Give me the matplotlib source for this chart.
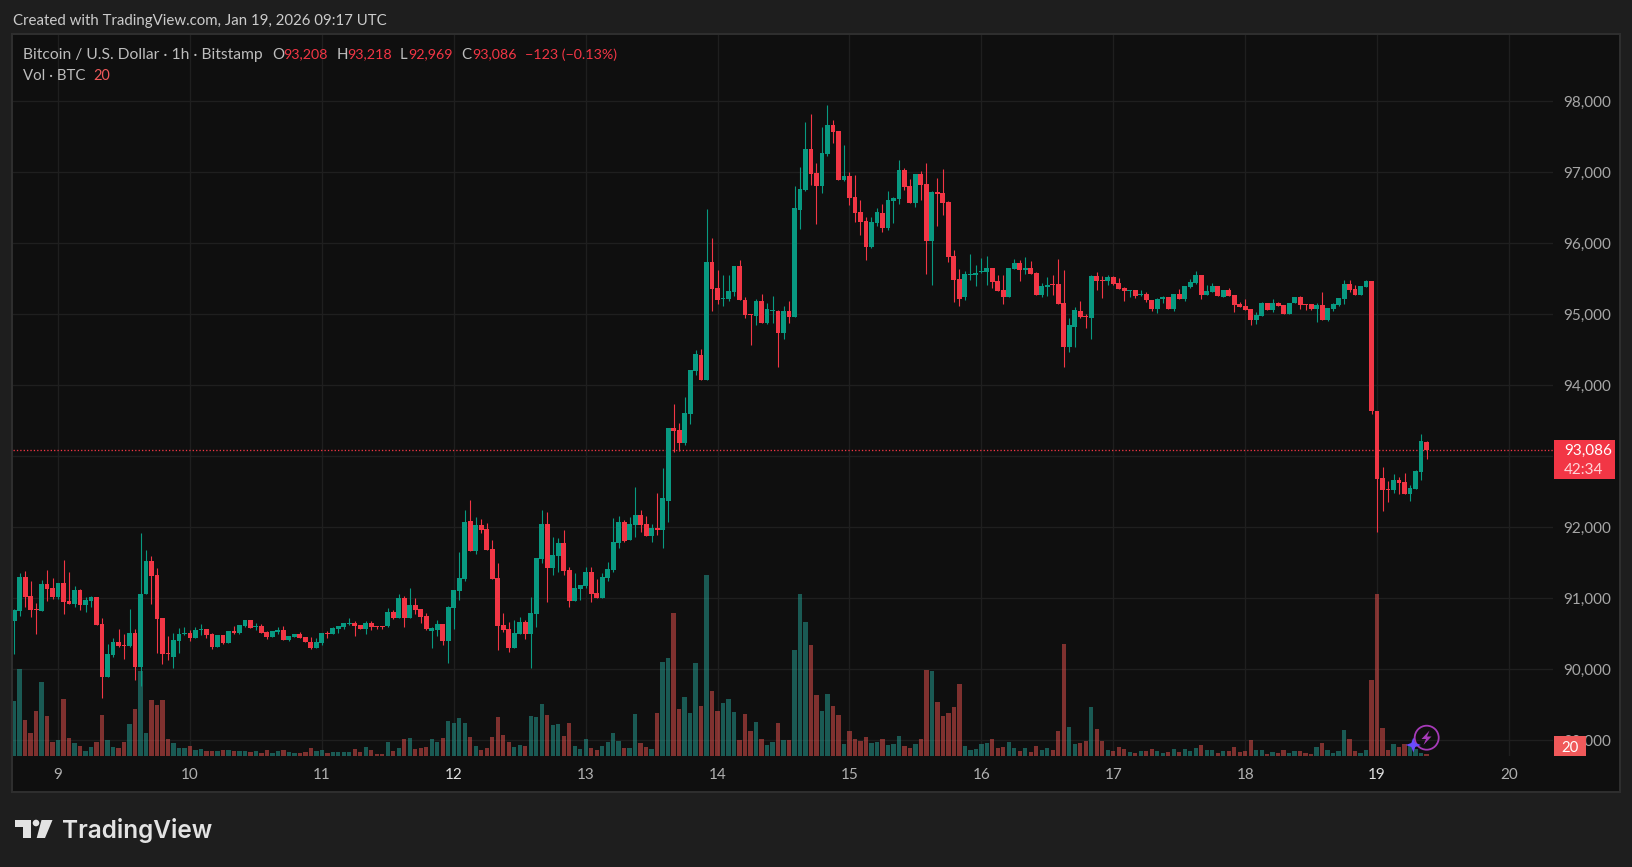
# -*- coding: utf-8 -*-
import matplotlib
matplotlib.use('Agg')
import matplotlib.pyplot as plt
from matplotlib.patches import Rectangle, Polygon, Circle
from matplotlib.path import Path
from matplotlib.patches import PathPatch
import numpy as np

opens = [
    90684, 90820, 91295, 91032, 90849, 90820, 91201, 91145, 91018, 91215,
    90961, 90919, 91116, 90905, 90961, 91018, 90637, 89890, 90200, 90383,
    90341, 90327, 90510, 90031, 91060, 91525, 91328, 90722, 90228, 90172,
    90397, 90496, 90510, 90440, 90552, 90567, 90496, 90313, 90482, 90369,
    90538, 90510, 90609, 90693, 90595, 90609, 90524, 90454, 90524, 90552,
    90412, 90454, 90496, 90454, 90383, 90299, 90369, 90510, 90498, 90568,
    90596, 90638, 90652, 90624, 90568, 90652, 90610, 90610, 90610, 90807,
    90723, 91005, 90723, 90906, 90850, 90751, 90540, 90554, 90638, 90399,
    90864, 91103, 91272, 92089, 91667, 92033, 91977, 91695, 91286, 90624,
    90568, 90300, 90498, 90667, 90498, 90779, 91554, 92047, 91427, 91596,
    91779, 91399, 90962, 91132, 91174, 91371, 91075, 91005, 91286, 91399,
    91779, 92075, 91822, 92033, 92174, 92047, 91878, 91991, 91962, 92371,
    93399, 93371, 93188, 93596, 94202, 94427, 94075, 95737, 95371, 95216,
    95216, 95315, 95681, 95202, 95005, 94976, 95188, 94878, 95047, 95047,
    94737, 95047, 94962, 96470, 96751, 97329, 96991, 96808, 97258, 97667,
    97582, 96892, 96948, 96653, 96441, 96315, 95948, 96286, 96427, 96216,
    96596, 96624, 97033, 96808, 96568, 96977, 96836, 96033, 96723, 96709,
    96582, 95822, 95498, 95244, 95554, 95554, 95596, 95596, 95653, 95469,
    95343, 95244, 95638, 95723, 95624, 95653, 95582, 95272, 95385, 95427,
    95427, 95160, 94540, 94822, 95047, 94976, 94948, 95540, 95484, 95469,
    95526, 95441, 95371, 95329, 95343, 95272, 95286, 95202, 95075, 95216,
    95244, 95075, 95286, 95216, 95385, 95441, 95554, 95272, 95315, 95399,
    95244, 95343, 95272, 95146, 95117, 95075, 94920, 94976, 95160, 95061,
    95160, 95131, 95005, 95160, 95244, 95146, 95146, 95075, 95131, 94920,
    95075, 95131, 95216, 95427, 95357, 95272, 95385, 95469, 93638, 92695,
    92540, 92526, 92667, 92639, 92470, 92540, 92779, 93208,
]
highs = [
    90849, 91351, 91384, 91243, 90933, 91257, 91398, 91286, 91215, 91539,
    91370, 91173, 91130, 91018, 91032, 91018, 90722, 90355, 90440, 90567,
    90496, 90849, 90567, 91920, 91680, 91596, 91427, 90722, 90468, 90510,
    90581, 90595, 90552, 90595, 90637, 90567, 90510, 90482, 90482, 90538,
    90609, 90623, 90693, 90693, 90651, 90637, 90538, 90538, 90595, 90609,
    90468, 90496, 90524, 90454, 90454, 90440, 90510, 90538, 90596, 90610,
    90652, 90723, 90681, 90624, 90681, 90681, 90610, 90610, 90864, 90836,
    91061, 91033, 91146, 91005, 90850, 90793, 90596, 90695, 90638, 90892,
    91117, 91653, 92244, 92385, 92146, 92117, 92061, 91822, 91498, 90793,
    90667, 90695, 90737, 90695, 91019, 91568, 92244, 92216, 91864, 91850,
    91962, 91441, 91357, 91188, 91441, 91441, 91272, 91357, 91512, 92131,
    92160, 92103, 92146, 92568, 92244, 92160, 92047, 92484, 92836, 93399,
    93737, 93470, 93836, 94216, 94498, 94512, 96484, 96075, 95624, 95554,
    95554, 95681, 95765, 95244, 95005, 95216, 95286, 95160, 95258, 95061,
    95117, 95188, 96808, 97075, 97709, 97822, 97131, 97639, 97948, 97737,
    97582, 97385, 97005, 96962, 96610, 96371, 96371, 96498, 96554, 96737,
    96653, 97174, 97061, 96906, 96977, 97019, 97131, 96737, 96920, 97047,
    96596, 95906, 95639, 95610, 95850, 95695, 95793, 95822, 95653, 95554,
    95554, 95653, 95779, 95765, 95808, 95751, 95596, 95441, 95526, 95554,
    95779, 95624, 94948, 95103, 95188, 95005, 95554, 95596, 95540, 95554,
    95540, 95512, 95385, 95343, 95343, 95343, 95315, 95202, 95230, 95258,
    95244, 95286, 95357, 95399, 95498, 95610, 95554, 95413, 95441, 95399,
    95343, 95371, 95272, 95174, 95216, 95075, 95033, 95174, 95160, 95216,
    95174, 95131, 95160, 95244, 95258, 95146, 95146, 95160, 95315, 95089,
    95160, 95230, 95484, 95484, 95413, 95399, 95484, 95469, 93638, 92850,
    92653, 92751, 92709, 92765, 92596, 92807, 93315, 93218,
]
lows = [
    90214, 90750, 90877, 90736, 90496, 90820, 90961, 90990, 90990, 90778,
    90919, 90877, 90834, 90806, 90877, 90623, 89594, 89890, 90172, 90313,
    90144, 90313, 89847, 89763, 91060, 90919, 90228, 90073, 90129, 90017,
    90228, 90482, 90397, 90440, 90482, 90440, 90285, 90313, 90355, 90369,
    90496, 90496, 90595, 90581, 90552, 90510, 90426, 90454, 90496, 90412,
    90397, 90454, 90440, 90383, 90285, 90299, 90341, 90440, 90498, 90512,
    90568, 90624, 90469, 90568, 90498, 90554, 90568, 90568, 90596, 90709,
    90723, 90596, 90723, 90779, 90652, 90554, 90300, 90469, 90343, 90089,
    90568, 90976, 91244, 91667, 91624, 91920, 91681, 91272, 90272, 90526,
    90244, 90300, 90498, 90427, 90019, 90596, 91498, 90948, 91329, 91371,
    91329, 90878, 90962, 90976, 91146, 90948, 91005, 91005, 91244, 91371,
    91709, 91793, 91822, 91864, 91934, 91878, 91793, 91892, 91709, 92075,
    93061, 93075, 93160, 93455, 94145, 94075, 94075, 95047, 95146, 95117,
    95188, 95258, 95202, 94948, 94568, 94850, 94878, 94864, 94878, 94258,
    94653, 94878, 94962, 96202, 96737, 96822, 96272, 96709, 97230, 97413,
    96892, 96878, 96540, 96300, 96117, 95765, 95934, 96244, 96160, 96188,
    96286, 96554, 96751, 96568, 96512, 96610, 95568, 95413, 96244, 96399,
    95737, 95174, 95117, 95202, 95484, 95399, 95582, 95413, 95371, 95329,
    95146, 95244, 95638, 95469, 95568, 95568, 95272, 95244, 95258, 95272,
    95146, 94258, 94469, 94540, 94948, 94807, 94653, 95343, 95230, 95413,
    95413, 95357, 95188, 95244, 95230, 95258, 95174, 95047, 95019, 95160,
    95075, 95047, 95216, 95188, 95371, 95427, 95216, 95272, 95315, 95258,
    95244, 95258, 95033, 95103, 95061, 94850, 94864, 94976, 95061, 95033,
    95117, 95005, 95005, 95160, 95075, 95061, 95061, 94892, 94920, 94906,
    95047, 95117, 95146, 95315, 95272, 95272, 95385, 93596, 91934, 92230,
    92357, 92484, 92470, 92470, 92371, 92540, 92667, 92969,
]
closes = [
    90834, 91295, 91018, 90834, 90834, 91201, 91130, 91018, 91215, 90947,
    90919, 91116, 90905, 90975, 91018, 90623, 89890, 90214, 90383, 90327,
    90327, 90510, 90031, 91060, 91525, 91314, 90707, 90214, 90214, 90412,
    90496, 90510, 90440, 90552, 90567, 90482, 90313, 90482, 90369, 90538,
    90510, 90623, 90693, 90581, 90609, 90510, 90454, 90538, 90552, 90412,
    90468, 90496, 90440, 90383, 90299, 90383, 90510, 90496, 90582, 90610,
    90652, 90652, 90610, 90568, 90652, 90596, 90596, 90596, 90807, 90723,
    91005, 90723, 90906, 90836, 90737, 90568, 90582, 90638, 90399, 90878,
    91117, 91286, 92075, 91667, 92033, 91962, 91681, 91272, 90610, 90554,
    90300, 90512, 90667, 90498, 90793, 91568, 92047, 91427, 91610, 91779,
    91385, 90962, 91146, 91188, 91371, 91061, 91005, 91300, 91413, 91793,
    92075, 91808, 92047, 92174, 92033, 91878, 91991, 91962, 92413, 93399,
    93357, 93188, 93610, 94216, 94441, 94075, 95737, 95357, 95202, 95230,
    95329, 95681, 95202, 94990, 94990, 95188, 94878, 95075, 95061, 94737,
    95047, 94962, 96498, 96765, 97329, 96977, 96808, 97272, 97667, 97568,
    96892, 96948, 96639, 96427, 96300, 95948, 96300, 96441, 96216, 96610,
    96639, 97033, 96794, 96568, 96977, 96822, 96033, 96723, 96695, 96568,
    95808, 95484, 95216, 95568, 95568, 95582, 95610, 95653, 95455, 95329,
    95244, 95653, 95723, 95624, 95653, 95568, 95272, 95399, 95413, 95413,
    95146, 94540, 94850, 95061, 94962, 94962, 95540, 95469, 95469, 95526,
    95427, 95357, 95329, 95343, 95258, 95286, 95202, 95075, 95216, 95244,
    95075, 95286, 95216, 95399, 95455, 95554, 95272, 95329, 95399, 95258,
    95343, 95258, 95131, 95103, 95061, 94920, 94990, 95160, 95061, 95160,
    95117, 95005, 95160, 95244, 95131, 95131, 95075, 95131, 94920, 95089,
    95146, 95230, 95427, 95343, 95272, 95399, 95469, 93638, 92681, 92526,
    92526, 92667, 92624, 92470, 92554, 92793, 93216, 93086,
]
volumes = [
    492, 780, 321, 204, 402, 663, 357, 123, 141, 510,
    159, 114, 87, 42, 78, 123, 366, 141, 78, 69,
    123, 285, 420, 765, 204, 501, 456, 501, 150, 114,
    69, 69, 87, 51, 60, 42, 42, 42, 51, 51,
    42, 42, 42, 33, 42, 24, 51, 24, 42, 51,
    33, 24, 24, 33, 69, 42, 51, 24, 33, 33,
    33, 33, 60, 33, 78, 51, 15, 15, 123, 42,
    69, 150, 159, 60, 69, 78, 150, 123, 159, 312,
    294, 339, 294, 168, 87, 51, 69, 168, 348, 186,
    123, 78, 96, 87, 357, 348, 465, 366, 276, 285,
    177, 294, 87, 60, 150, 69, 51, 87, 123, 204,
    132, 69, 69, 375, 114, 78, 60, 384, 843, 879,
    1284, 420, 528, 384, 834, 447, 1626, 582, 402, 474,
    510, 393, 141, 375, 222, 303, 150, 96, 123, 294,
    141, 141, 951, 1455, 1203, 996, 546, 402, 555, 447,
    366, 105, 222, 150, 132, 168, 114, 123, 150, 96,
    105, 177, 87, 69, 105, 150, 771, 762, 483, 357,
    384, 438, 645, 87, 51, 60, 105, 114, 150, 69,
    78, 123, 69, 42, 69, 33, 87, 51, 69, 51,
    222, 1005, 258, 105, 114, 132, 438, 240, 132, 51,
    42, 78, 60, 33, 24, 42, 42, 60, 42, 24,
    33, 60, 33, 60, 42, 69, 96, 51, 51, 24,
    42, 42, 78, 33, 42, 141, 51, 51, 15, 33,
    24, 51, 24, 42, 42, 24, 15, 78, 114, 51,
    24, 42, 231, 150, 42, 24, 51, 681, 1455, 249,
    51, 105, 78, 105, 96, 66, 30, 20,
]
# 93,000 is hidden behind the last price tag in the picture
price_ticks = [89000, 90000, 91000, 92000, 93000, 94000, 95000, 96000, 97000, 98000]
price_labels = ['89,000', '90,000', '91,000', '92,000', '', '94,000', '95,000', '96,000', '97,000', '98,000']
day_labels = ['9', '10', '11', '12', '13', '14', '15', '16', '17', '18', '19', '20']
last_price = 93086

W, H = 1633, 867
OUTER = '#1e1e1e'
PANEL = '#0f0f0f'
BORDER = '#2e2e2e'
GRID = '#1f1f1f'
UP = '#089981'
DOWN = '#f23645'
FONT = 'Lato'
PX = 0.72  # 1px in points at dpi 100

plt.rcParams['font.family'] = [FONT, 'DejaVu Sans']

fig = plt.figure(figsize=(W / 100, H / 100), dpi=100, facecolor=OUTER)

# 图表主体: x轴单位为小时序号, y轴为价格
top_px, bottom_px = 33.5, 756.0
ax = fig.add_axes([13 / W, 1 - bottom_px / H, 1540 / W, (bottom_px - top_px) / H], facecolor=PANEL)
x_per_hour = 5.4958
y_95000 = 314.4
ax.set_xlim((13 - 14.1) / x_per_hour, (1553 - 14.1) / x_per_hour)
ax.set_ylim(95000 - (bottom_px - y_95000) / 0.071, 95000 + (y_95000 - top_px) / 0.071)
for s in ax.spines.values():
    s.set_visible(False)

hours = np.arange(len(opens))
o, h, l, c = map(np.array, (opens, highs, lows, closes))
up = c >= o
assert len(opens) == len(highs) == len(lows) == len(closes) == len(volumes) == 258

ax.set_axisbelow(True)
ax.grid(True, color=GRID, linewidth=1.3 * PX)
day_pos = [8 + 24 * k for k in range(len(day_labels))]
ax.set_xticks(day_pos, day_labels)
ax.set_yticks(price_ticks, price_labels)
ax.yaxis.tick_right()
ax.tick_params(axis='both', length=0, labelsize=15.3 * PX, labelcolor='#a6a6a6')
ax.tick_params(axis='x', pad=8.4)
ax.tick_params(axis='y', pad=7.6)
for t, d in zip(ax.get_xticklabels(), day_labels):
    t.set_color('#e0e0e0' if d in ('12', '19') else '#b0b0b0')

# 成交量
vol_top = (bottom_px - top_px) * 9
ax.bar(hours, np.array(volumes) / vol_top, width=0.78, bottom=0,
       color=['#26a69a' if u else '#ef5350' for u in up], alpha=0.5,
       transform=ax.get_xaxis_transform(), zorder=1)

# K线
col = [UP if u else DOWN for u in up]
ax.vlines(hours, l, h, colors=col, linewidth=1.1 * PX, zorder=2)
ax.bar(hours, np.maximum(np.abs(c - o), 14), bottom=np.minimum(o, c), width=0.88, color=col,
       linewidth=0, zorder=3)

# 最新价虚线
ax.axhline(last_price, color=DOWN, linewidth=1.3 * PX, linestyle=(0, (1, 1.6)), zorder=2, snap=True)

# 面板背景放在坐标轴下面, 包括价格轴和时间轴
fig.add_artist(Rectangle((13 / W, 1 - 791 / H), 1607 / W, 757 / H, transform=fig.transFigure,
                         facecolor=PANEL, edgecolor='none', zorder=-1))

# 其他元素用像素坐标
ov = fig.add_axes([0, 0, 1, 1], facecolor='none')
ov.set_xlim(0, W)
ov.set_ylim(H, 0)
ov.axis('off')

# 边框
ov.add_patch(Rectangle((12.5, 33.5), 1607.5, 758, fill=False, edgecolor=BORDER, linewidth=2 * PX))


def label(x, y, s, color, size=14.5, ha='left', **kw):
    ov.text(x, y, s, color=color, fontsize=size * PX, ha=ha, va='center_baseline', **kw)


GREY = '#bdbdbd'
label(13, 20, 'Created with TradingView.com, Jan 19, 2026 09:17 UTC', '#cccccc', 15)
label(23, 53.5, 'Bitcoin / U.S. Dollar · 1h · Bitstamp', GREY, 15.6)
for x, s in [(272, 'O'), (336.6, 'H'), (400, 'L'), (461.6, 'C')]:
    label(x, 53.5, s, GREY, 15)
for x, s in [(283.5, '93,208'), (347, '93,218'), (408.5, '92,969'), (472, '93,086'), (525.4, '−123 (−0.13%)')]:
    label(x, 53.5, s, DOWN, 14.2)
label(23, 75, 'Vol · BTC', GREY, 15)
label(93, 75, '20', '#f0595a', 14.5)

# 价格标签
ov.add_patch(Rectangle((1554, 440), 61.5, 39, facecolor=DOWN, edgecolor='none', zorder=4))
label(1564, 449.5, '93,086', '#ffffff', 15.3, zorder=5)
label(1564, 468.5, '42:34', '#ffd5d8', 15.3, zorder=5)
ov.add_patch(Rectangle((1554, 736), 32, 20, facecolor='#f0595a', edgecolor='none', zorder=4))
label(1570, 746.5, '20', '#ffffff', 15, ha='center', zorder=5)

# 闪电图标
ov.add_patch(Circle((1426.7, 737.7), 12, fill=False, edgecolor='#a63ab8', linewidth=1.8 * PX, zorder=5))
ov.add_patch(Polygon([(1429.5, 730.5), (1421.5, 739), (1426, 739), (1423.5, 745),
                      (1431.5, 736.5), (1427, 736.5)], facecolor='#a63ab8', edgecolor='none', zorder=5))
sx, sy, r, q = 1413.3, 745, 7.5, 2.0
star = Path([(sx, sy - r), (sx + q, sy - q), (sx + r, sy), (sx + q, sy + q), (sx, sy + r),
             (sx - q, sy + q), (sx - r, sy), (sx - q, sy - q), (sx, sy - r)])
ov.add_patch(PathPatch(star, facecolor='#6a4bff', edgecolor='none', zorder=6))

# TradingView 标志
LOGO = '#e3e3e3'
ov.add_patch(Polygon([(15.3, 820), (30.7, 820), (30.7, 838), (23.3, 838), (23.3, 827.3), (15.3, 827.3)],
                     facecolor=LOGO, edgecolor='none'))
ov.add_patch(Circle((36, 823), 3.3, facecolor=LOGO, edgecolor='none'))
ov.add_patch(Polygon([(41.5, 820), (52.5, 820), (45, 838), (36.7, 838)], facecolor=LOGO, edgecolor='none'))
ov.text(62, 838, 'TradingView', color=LOGO, fontsize=24.4 * PX, fontweight=600, family='Inter',
        ha='left', va='baseline')

fig.savefig('out.png', dpi=100, facecolor=OUTER)
